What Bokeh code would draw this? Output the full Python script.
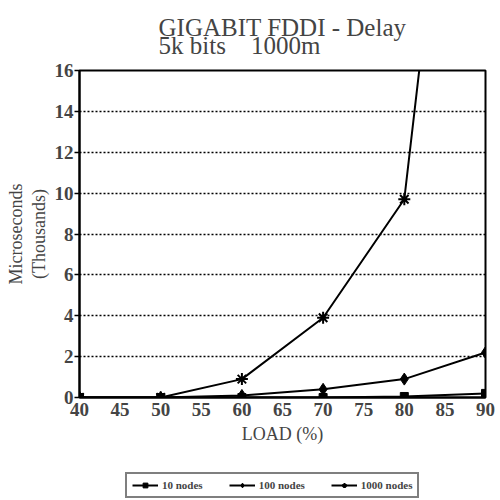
from bokeh.plotting import figure
from bokeh.layouts import column
from bokeh.models import Legend, LegendItem, FixedTicker, Range1d
from bokeh.embed import file_html
from bokeh.resources import INLINE

load = [40, 50, 60, 70, 80, 90]
nodes10 = [0.0, 0.0, 0.0, 0.0, 0.05, 0.2]
nodes100 = [0.0, 0.0, 0.1, 0.4, 0.9, 2.2]
nodes1000 = [0.0, 0.0, 0.9, 3.9, 9.7, 44.0]
series_names = ["10 nodes", "100 nodes", "1000 nodes"]
x_ticks = [40, 45, 50, 55, 60, 65, 70, 75, 80, 85, 90]
y_ticks = [0, 2, 4, 6, 8, 10, 12, 14, 16]
title_text = "GIGABIT FDDI - Delay\n5k bits\u00a0\u00a0\u00a0\u00a01000m"

FONT = "Liberation Serif"
series = [nodes10, nodes100, nodes1000]
markers = [("square", 8), ("diamond", 12), ("asterisk", 12)]

p = figure(width=500, height=455, output_backend="svg", toolbar_location=None,
           x_range=Range1d(40, 90), y_range=Range1d(0, 16),
           min_border_left=79, min_border_right=15, min_border_top=68, min_border_bottom=58)

p.title.text = title_text
p.title.align = "center"
p.title.text_font = FONT
p.title.text_font_size = "25px"
p.title.text_font_style = "normal"
p.title.text_line_height = 0.7
p.title.standoff = 22

p.outline_line_color = "black"
p.outline_line_width = 2
p.background_fill_color = "white"
p.border_fill_color = "white"

p.xgrid.visible = False
p.ygrid.grid_line_color = "black"
p.ygrid.grid_line_width = 1.5
p.ygrid.grid_line_dash = "2 2"

for ax in (p.xaxis[0], p.yaxis[0]):
    ax.axis_line_color = "black"
    ax.axis_line_width = 2
    ax.major_tick_line_color = "black"
    ax.major_tick_line_width = 1.5
    ax.minor_tick_line_color = None
    ax.major_tick_in = 0
    ax.major_label_text_font = FONT
    ax.major_label_text_font_size = "19px"
    ax.major_label_text_font_style = "bold"
    ax.axis_label_text_font = FONT
    ax.axis_label_text_font_size = "18px"
    ax.axis_label_text_font_style = "normal"

p.xaxis.ticker = FixedTicker(ticks=x_ticks)
p.yaxis.ticker = FixedTicker(ticks=y_ticks)
p.xaxis.major_tick_out = 0
p.yaxis.major_tick_out = 5
p.xaxis.major_label_standoff = 5
p.yaxis.major_label_standoff = 1
p.xaxis.axis_label = "LOAD (%)"
p.xaxis.axis_label_standoff = 5
p.yaxis.axis_label = "Microseconds\n(Thousands)"
p.yaxis.axis_label_standoff = 3
p.yaxis.axis_label_text_line_height = 1.15

for vals, (mk, sz) in zip(series, markers):
    p.line(load, vals, line_color="black", line_width=2)
    p.scatter(load, vals, marker=mk, size=sz, color="black", line_width=2 if mk == "asterisk" else 1)

# Legend strip below the chart
lf = figure(width=500, height=45, output_backend="svg", toolbar_location=None,
            x_range=Range1d(0, 1), y_range=Range1d(0, 1),
            min_border_left=0, min_border_right=0, min_border_top=0, min_border_bottom=0)
lf.axis.visible = False
lf.grid.visible = False
lf.outline_line_color = None
items = []
for name, vals, (mk, sz) in zip(series_names, series, markers):
    rl = lf.line(load, vals, line_color="black", line_width=2)
    rs = lf.scatter(load, vals, marker=mk, size=sz * 0.85, color="black",
                    line_width=2 if mk == "asterisk" else 1)
    items.append(LegendItem(label=name, renderers=[rl, rs]))

legend = Legend(items=items, orientation="horizontal", location=(46, 2))
legend.label_text_font = FONT
legend.label_text_font_size = "11px"
legend.label_text_font_style = "bold"
legend.border_line_color = "black"
legend.border_line_width = 2
legend.glyph_width = 26
legend.glyph_height = 12
legend.label_standoff = 4
legend.spacing = 26
legend.padding = 5
legend.margin = 0
legend.label_height = 12
lf.add_layout(legend)

layout = column(p, lf, spacing=0)
open("out.html", "w").write(file_html(layout, INLINE))
